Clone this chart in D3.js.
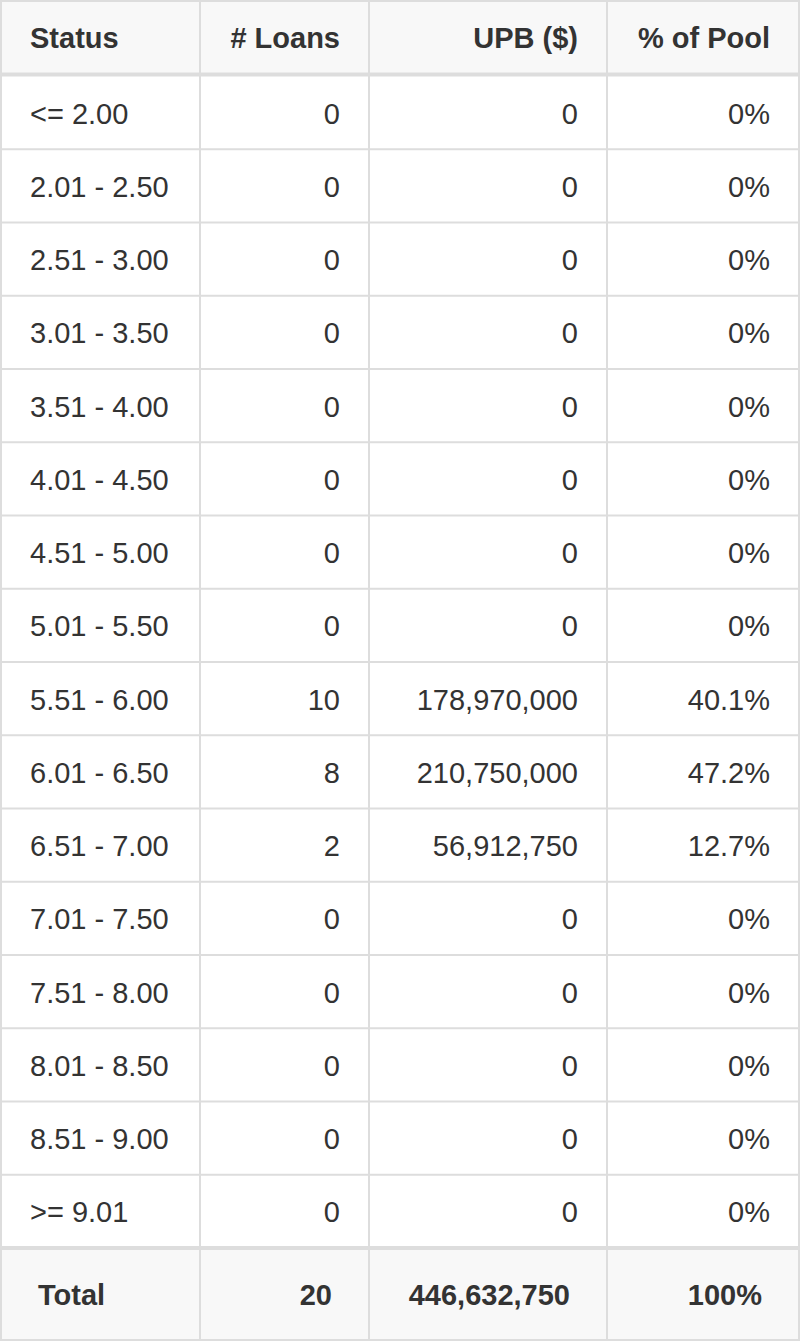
<!DOCTYPE html>
<html><head><meta charset="utf-8">
<script src="https://cdn.jsdelivr.net/npm/d3@7/dist/d3.min.js"></script>
<style>body{margin:0;background:#fff}</style></head>
<body><svg id="c" width="800" height="1341"></svg>
<script>
const headers = ["Status", "# Loans", "UPB ($)", "% of Pool"];
const statuses = ["<= 2.00","2.01 - 2.50","2.51 - 3.00","3.01 - 3.50","3.51 - 4.00","4.01 - 4.50","4.51 - 5.00","5.01 - 5.50","5.51 - 6.00","6.01 - 6.50","6.51 - 7.00","7.01 - 7.50","7.51 - 8.00","8.01 - 8.50","8.51 - 9.00",">= 9.01"];
const loans = [0,0,0,0,0,0,0,0,10,8,2,0,0,0,0,0];
const upb = ["0","0","0","0","0","0","0","0","178,970,000","210,750,000","56,912,750","0","0","0","0","0"];
const pct = ["0%","0%","0%","0%","0%","0%","0%","0%","40.1%","47.2%","12.7%","0%","0%","0%","0%","0%"];
const totals = ["Total","20","446,632,750","100%"];

const svg = d3.select("#c");
const colEdges = [1,200,369,607,799];
const headerH = 75, rowTop = 76, rowH = 73.25, totalTop = 1249, totalBottom = 1340;
const y = d3.scaleLinear().domain([0,statuses.length]).range([rowTop,rowTop+rowH*statuses.length]);
const font = "'Liberation Sans', Arial, Helvetica, sans-serif";

svg.append("rect").attr("x",0).attr("y",0).attr("width",800).attr("height",headerH).attr("fill","#f8f8f8");
svg.append("rect").attr("x",0).attr("y",totalTop).attr("width",800).attr("height",totalBottom-totalTop).attr("fill","#f8f8f8");

const g = svg.append("g").attr("stroke","#dddddd");
g.append("line").attr("x1",0).attr("x2",800).attr("y1",1).attr("y2",1).attr("stroke-width",2);
d3.range(1,statuses.length).forEach(i=>{
  g.append("line").attr("x1",0).attr("x2",800).attr("y1",y(i)).attr("y2",y(i)).attr("stroke-width",2);
});
g.append("line").attr("x1",0).attr("x2",800).attr("y1",74.5).attr("y2",74.5).attr("stroke-width",4);
g.append("line").attr("x1",0).attr("x2",800).attr("y1",totalTop-1).attr("y2",totalTop-1).attr("stroke-width",4);
g.append("line").attr("x1",0).attr("x2",800).attr("y1",totalBottom).attr("y2",totalBottom).attr("stroke-width",2);
colEdges.forEach(x=>g.append("line").attr("x1",x).attr("x2",x).attr("y1",0).attr("y2",1341).attr("stroke-width",2));

function cellText(ci, cy, txt, bold, pad){
  const left = ci===0;
  svg.append("text")
    .attr("x", left ? colEdges[ci]+pad : colEdges[ci+1]-pad)
    .attr("y", cy).attr("dominant-baseline","central")
    .attr("text-anchor", left?"start":"end")
    .style("font-family",font).attr("font-size",29)
    .attr("font-weight",bold?"bold":"normal").attr("fill","#333")
    .text(txt);
}
headers.forEach((h,i)=>cellText(i,38,h,true,29));
statuses.forEach((s,r)=>{
  const cy = (y(r)+y(r+1))/2+1;
  [s, String(loans[r]), upb[r], pct[r]].forEach((t,i)=>cellText(i,cy,t,false,29));
});
totals.forEach((t,i)=>cellText(i,(totalTop+totalBottom)/2,t,true,37));
</script></body></html>
